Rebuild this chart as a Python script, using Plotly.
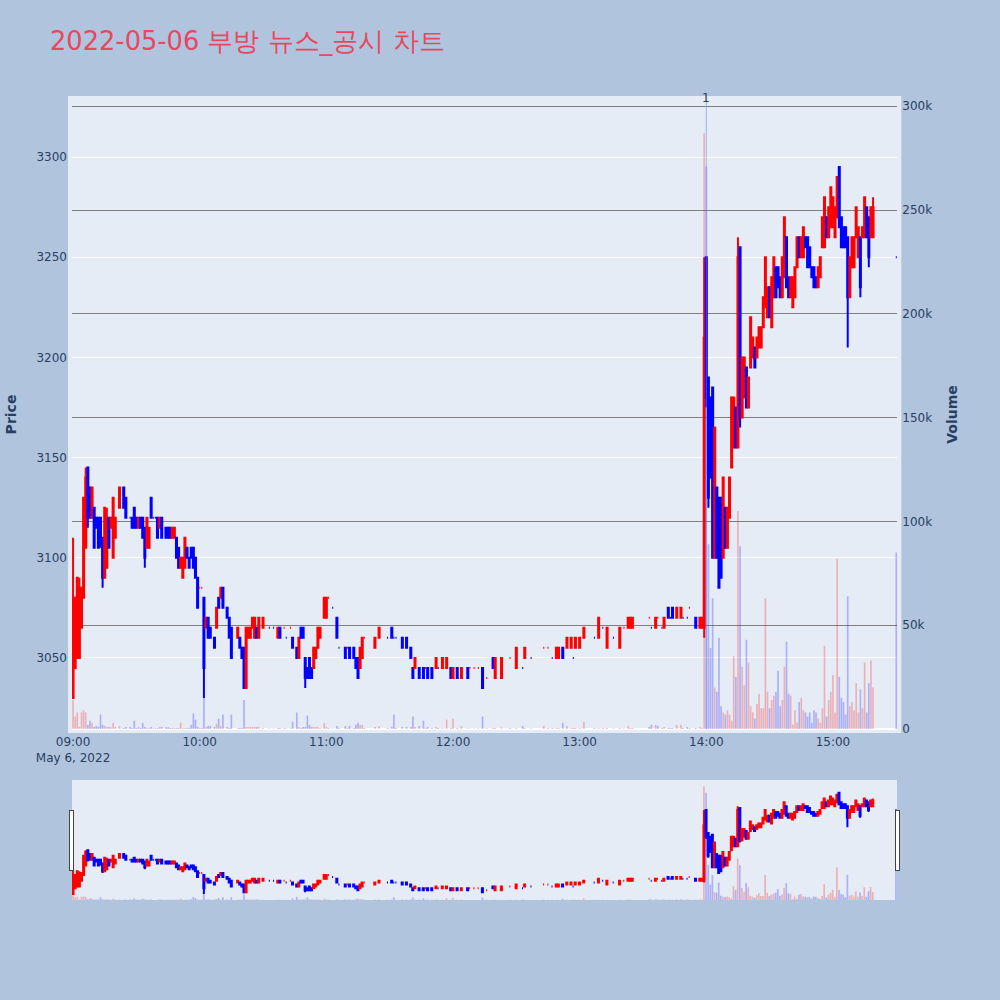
import pandas as pd
import plotly.graph_objects as go

TITLE = "2022-05-06 부방 뉴스_공시 차트"
NEWS_TIME = "2022-05-06 14:00"
NEWS_LABEL = "1"

# minutes after 09:00 that have a trade
minutes = [
    0, 1, 2, 3, 4, 5, 6, 7, 8, 9,
    10, 11, 12, 13, 14, 15, 16, 17, 18, 19,
    20, 22, 24, 25, 27, 28, 29, 30, 31, 32,
    33, 34, 35, 36, 37, 38, 39, 40, 41, 42,
    44, 45, 46, 47, 48, 49, 50, 51, 52, 53,
    54, 55, 56, 57, 58, 59, 60, 61, 62, 63,
    64, 65, 67, 68, 69, 70, 71, 73, 74, 75,
    78, 79, 80, 81, 82, 83, 84, 85, 86, 87,
    88, 90, 93, 95, 97, 98, 100, 101, 103, 104,
    106, 107, 108, 109, 110, 111, 112, 113, 114, 115,
    116, 117, 119, 120, 121, 123, 125, 126, 129, 130,
    131, 133, 134, 135, 136, 137, 138, 143, 145, 149,
    151, 152, 153, 156, 158, 160, 161, 162, 164, 166,
    167, 168, 170, 172, 173, 175, 177, 179, 180, 182,
    184, 187, 188, 190, 192, 194, 196, 199, 200, 203,
    207, 210, 213, 214, 217, 223, 225, 227, 229, 230,
    232, 234, 236, 237, 238, 240, 242, 247, 249, 251,
    253, 256, 259, 261, 263, 264, 265, 273, 274, 276,
    277, 279, 280, 282, 283, 284, 286, 288, 289, 291,
    292, 295, 297, 298,
    299, 300, 301, 302, 303, 304, 305, 306, 307, 308,
    309, 310, 311, 312, 313, 314, 315, 316, 317, 318,
    319, 320, 321, 322, 323, 324, 325, 326, 327, 328,
    329, 330, 331, 332, 333, 334, 335, 336, 337, 338,
    339, 340, 341, 342, 343, 344, 345, 346, 347, 348,
    349, 350, 351, 352, 353, 354, 355, 356, 357, 358,
    359, 360, 361, 362, 363, 364, 365, 366, 367, 368,
    369, 370, 371, 372, 373, 374, 375, 376, 377, 378,
    379, 390,
]

opens = [
    3030, 3045, 3050, 3050, 3065, 3080, 3105, 3145, 3135, 3120,
    3125, 3120, 3120, 3120, 3110, 3090, 3095, 3120, 3115, 3100,
    3110, 3125, 3135, 3130, 3120, 3120, 3125, 3120, 3115, 3120,
    3120, 3115, 3105, 3105, 3130, 3120, 3120, 3120, 3115, 3120,
    3115, 3115, 3115, 3110, 3110, 3110, 3105, 3095, 3090, 3095,
    3105, 3100, 3105, 3105, 3100, 3090, 3085, 3085, 3080, 3065,
    3070, 3065, 3060, 3065, 3080, 3080, 3085, 3075, 3070, 3065,
    3060, 3060, 3055, 3055, 3035, 3060, 3060, 3065, 3060, 3065,
    3060, 3065, 3065, 3065, 3060, 3065, 3065, 3060, 3065, 3060,
    3055, 3050, 3065, 3065, 3050, 3045, 3050, 3045, 3045, 3050,
    3055, 3060, 3070, 3070, 3080, 3075, 3070, 3055, 3055, 3055,
    3055, 3055, 3050, 3050, 3045, 3050, 3060, 3055, 3060, 3060,
    3065, 3060, 3060, 3060, 3060, 3055, 3045, 3045, 3045, 3045,
    3045, 3045, 3045, 3045, 3045, 3045, 3045, 3045, 3040, 3045,
    3040, 3045, 3045, 3045, 3045, 3045, 3040, 3050, 3040, 3040,
    3050, 3045, 3045, 3050, 3050, 3055, 3055, 3050, 3050, 3050,
    3055, 3055, 3055, 3050, 3055, 3055, 3060, 3060, 3060, 3065,
    3055, 3060, 3055, 3065, 3065, 3065, 3065, 3070, 3065, 3065,
    3070, 3065, 3065, 3075, 3070, 3075, 3070, 3070, 3070, 3070,
    3075, 3070, 3065, 3065,
    3065, 3250, 3190, 3180, 3185, 3100, 3135, 3130, 3130, 3100,
    3125, 3105, 3120, 3145, 3155, 3175, 3155, 3255, 3170, 3180,
    3195, 3175, 3195, 3200, 3205, 3200, 3205, 3205, 3215, 3225,
    3220, 3235, 3215, 3230, 3245, 3245, 3240, 3230, 3240, 3260,
    3240, 3230, 3225, 3230, 3245, 3260, 3250, 3250, 3260, 3260,
    3255, 3245, 3245, 3240, 3235, 3240, 3255, 3255, 3270, 3260,
    3265, 3265, 3260, 3270, 3295, 3270, 3265, 3265, 3260, 3230,
    3245, 3245, 3260, 3250, 3260, 3260, 3260, 3275, 3270, 3260,
    3260, 3250,
]

highs = [
    3110, 3080, 3090, 3090, 3085, 3130, 3145, 3145, 3135, 3135,
    3125, 3120, 3120, 3120, 3110, 3125, 3125, 3120, 3120, 3130,
    3120, 3135, 3135, 3130, 3120, 3120, 3125, 3120, 3120, 3120,
    3120, 3115, 3120, 3115, 3130, 3120, 3120, 3120, 3120, 3120,
    3115, 3115, 3115, 3115, 3115, 3110, 3105, 3100, 3100, 3110,
    3105, 3100, 3105, 3105, 3100, 3090, 3085, 3085, 3080, 3070,
    3070, 3065, 3060, 3075, 3080, 3085, 3085, 3075, 3070, 3065,
    3065, 3060, 3055, 3055, 3065, 3065, 3065, 3070, 3070, 3065,
    3070, 3070, 3065, 3065, 3065, 3065, 3065, 3060, 3065, 3060,
    3055, 3060, 3065, 3065, 3050, 3045, 3050, 3045, 3055, 3055,
    3065, 3065, 3080, 3080, 3080, 3075, 3070, 3055, 3055, 3055,
    3055, 3055, 3050, 3050, 3055, 3060, 3060, 3060, 3065, 3060,
    3065, 3060, 3060, 3060, 3060, 3055, 3045, 3050, 3045, 3045,
    3045, 3045, 3045, 3050, 3045, 3050, 3050, 3045, 3045, 3045,
    3045, 3045, 3045, 3045, 3045, 3045, 3040, 3050, 3050, 3050,
    3050, 3055, 3045, 3055, 3050, 3055, 3055, 3050, 3055, 3055,
    3055, 3060, 3060, 3050, 3060, 3060, 3065, 3060, 3070, 3065,
    3065, 3060, 3065, 3065, 3070, 3070, 3070, 3070, 3065, 3070,
    3070, 3065, 3070, 3075, 3070, 3075, 3075, 3075, 3070, 3070,
    3075, 3070, 3070, 3070,
    3250, 3250, 3190, 3180, 3185, 3165, 3135, 3130, 3130, 3140,
    3125, 3125, 3140, 3180, 3180, 3175, 3260, 3255, 3200, 3200,
    3195, 3190, 3220, 3210, 3205, 3210, 3215, 3215, 3230, 3250,
    3235, 3235, 3240, 3250, 3245, 3245, 3240, 3250, 3270, 3260,
    3240, 3240, 3240, 3245, 3260, 3260, 3260, 3265, 3260, 3260,
    3255, 3245, 3245, 3240, 3245, 3250, 3270, 3280, 3270, 3275,
    3285, 3280, 3275, 3290, 3295, 3270, 3265, 3265, 3260, 3250,
    3260, 3260, 3275, 3265, 3260, 3265, 3280, 3275, 3270, 3275,
    3280, 3250,
]

lows = [
    3030, 3045, 3050, 3050, 3065, 3080, 3105, 3115, 3120, 3120,
    3105, 3115, 3105, 3105, 3085, 3090, 3095, 3105, 3115, 3100,
    3110, 3125, 3125, 3120, 3120, 3115, 3115, 3115, 3115, 3115,
    3110, 3095, 3105, 3105, 3120, 3120, 3120, 3110, 3115, 3110,
    3110, 3110, 3110, 3110, 3110, 3100, 3095, 3095, 3090, 3095,
    3100, 3095, 3100, 3095, 3090, 3075, 3085, 3085, 3030, 3065,
    3060, 3060, 3055, 3065, 3075, 3080, 3075, 3070, 3060, 3050,
    3060, 3055, 3050, 3035, 3035, 3060, 3060, 3065, 3060, 3060,
    3060, 3065, 3065, 3065, 3060, 3060, 3065, 3060, 3065, 3055,
    3050, 3050, 3060, 3060, 3035, 3040, 3040, 3040, 3045, 3050,
    3055, 3060, 3070, 3070, 3080, 3075, 3060, 3055, 3050, 3055,
    3050, 3050, 3045, 3040, 3045, 3050, 3060, 3055, 3060, 3060,
    3060, 3060, 3060, 3055, 3055, 3050, 3040, 3045, 3040, 3040,
    3045, 3040, 3040, 3045, 3045, 3045, 3045, 3040, 3040, 3040,
    3040, 3040, 3045, 3045, 3045, 3035, 3040, 3045, 3040, 3040,
    3050, 3045, 3045, 3050, 3050, 3055, 3055, 3050, 3050, 3050,
    3050, 3055, 3055, 3050, 3055, 3055, 3060, 3060, 3060, 3065,
    3055, 3060, 3055, 3065, 3065, 3065, 3065, 3070, 3065, 3065,
    3070, 3065, 3065, 3070, 3070, 3070, 3070, 3070, 3070, 3070,
    3075, 3065, 3065, 3065,
    3060, 3175, 3125, 3140, 3100, 3100, 3100, 3085, 3090, 3100,
    3105, 3105, 3120, 3145, 3155, 3155, 3155, 3165, 3170, 3180,
    3175, 3175, 3195, 3200, 3195, 3200, 3205, 3205, 3215, 3225,
    3220, 3220, 3215, 3230, 3230, 3235, 3230, 3230, 3240, 3235,
    3230, 3230, 3225, 3230, 3245, 3250, 3250, 3250, 3255, 3245,
    3245, 3240, 3235, 3235, 3235, 3240, 3255, 3255, 3260, 3260,
    3265, 3265, 3260, 3270, 3265, 3255, 3255, 3255, 3205, 3230,
    3245, 3245, 3260, 3250, 3230, 3260, 3260, 3260, 3245, 3260,
    3260, 3250,
]

closes = [
    3080, 3080, 3090, 3085, 3085, 3130, 3140, 3120, 3120, 3135,
    3105, 3115, 3105, 3110, 3090, 3125, 3120, 3105, 3120, 3130,
    3120, 3135, 3125, 3120, 3120, 3115, 3115, 3115, 3120, 3115,
    3110, 3100, 3120, 3115, 3120, 3120, 3120, 3110, 3120, 3110,
    3110, 3110, 3110, 3115, 3115, 3100, 3095, 3100, 3100, 3110,
    3100, 3095, 3100, 3095, 3090, 3075, 3085, 3085, 3045, 3070,
    3060, 3060, 3055, 3075, 3075, 3085, 3075, 3070, 3060, 3050,
    3065, 3055, 3050, 3035, 3065, 3065, 3065, 3070, 3070, 3060,
    3070, 3070, 3065, 3065, 3065, 3060, 3065, 3060, 3065, 3055,
    3050, 3060, 3060, 3060, 3040, 3040, 3040, 3040, 3055, 3055,
    3065, 3065, 3080, 3080, 3080, 3075, 3060, 3055, 3050, 3055,
    3050, 3050, 3045, 3040, 3055, 3060, 3060, 3060, 3065, 3060,
    3060, 3060, 3060, 3055, 3055, 3050, 3040, 3050, 3040, 3040,
    3045, 3040, 3040, 3050, 3045, 3050, 3050, 3040, 3045, 3040,
    3045, 3040, 3045, 3045, 3045, 3035, 3040, 3045, 3050, 3050,
    3050, 3055, 3045, 3055, 3050, 3055, 3055, 3050, 3055, 3055,
    3050, 3060, 3060, 3050, 3060, 3060, 3065, 3060, 3070, 3065,
    3065, 3060, 3065, 3065, 3070, 3070, 3070, 3070, 3065, 3070,
    3070, 3065, 3070, 3070, 3070, 3070, 3075, 3075, 3070, 3070,
    3075, 3065, 3070, 3070,
    3210, 3180, 3130, 3140, 3100, 3165, 3100, 3085, 3090, 3140,
    3105, 3125, 3140, 3180, 3180, 3155, 3250, 3170, 3200, 3200,
    3175, 3190, 3220, 3210, 3195, 3210, 3215, 3215, 3230, 3250,
    3235, 3220, 3240, 3250, 3230, 3235, 3230, 3250, 3270, 3235,
    3230, 3240, 3240, 3245, 3260, 3250, 3260, 3265, 3255, 3245,
    3245, 3240, 3235, 3235, 3245, 3250, 3270, 3280, 3260, 3275,
    3285, 3280, 3275, 3290, 3265, 3255, 3255, 3255, 3230, 3250,
    3260, 3260, 3275, 3265, 3235, 3265, 3280, 3260, 3250, 3275,
    3275, 3250,
]

# traded volume, thousands of shares
volume_k = [
    14, 6, 8, 1, 8, 9, 8, 2, 4, 3,
    1, 1.5, 1, 7, 2, 1.5, 1, 1, 0.8, 3,
    1, 1.5, 0.5, 1, 1, 0.5, 4, 0.5, 1, 0.5,
    3, 1, 0.5, 0.5, 1, 0.3, 0.3, 0.5, 1, 1,
    0.8, 0.8, 0.5, 0.5, 0.5, 0.5, 0.5, 3, 0.5, 0.5,
    0.5, 0.5, 2, 7.5, 4.5, 1, 0.5, 0.5, 15, 1,
    1.5, 1.5, 1, 2.6, 5, 1.5, 7, 1, 0.5, 7,
    0.5, 0.5, 0.5, 14, 1, 1, 1, 1, 1, 1,
    1, 0.5, 0.3, 0.3, 0.5, 0.5, 0.5, 0.3, 0.3, 3.5,
    8, 1, 0.5, 1, 1, 6.5, 2, 1, 1, 1,
    1, 0.5, 3, 1, 0.5, 0.3, 1.5, 0.5, 1.5, 0.5,
    1.5, 0.5, 2, 3, 2, 2, 0.5, 1, 1.5, 0.5,
    1, 7, 0.5, 1, 1, 1, 6, 1, 1.5, 4,
    0.5, 1, 0.5, 1, 0.5, 0.5, 4.5, 0.5, 5, 0.5,
    1.5, 0.3, 0.3, 0.3, 0.3, 6, 0.5, 0.5, 0.5, 0.8,
    0.5, 0.5, 1.5, 0.5, 0.3, 1.5, 0.5, 0.5, 0.5, 0.5,
    3, 1.5, 0.5, 0.5, 0.5, 0.5, 3.5, 0.5, 0.5, 0.5,
    0.5, 0.3, 0.5, 0.3, 1.5, 0.5, 0.5, 1, 2, 2,
    1.5, 0.5, 1, 0.5, 0.5, 0.5, 2, 2, 0.5, 1,
    0.5, 0.5, 1, 0.5,
    287, 271, 89, 39, 63, 20, 18, 44, 11, 8,
    7, 9, 7, 4, 35, 25, 105, 88, 30, 21,
    43, 32, 11, 8, 5, 12, 17, 10, 10, 63,
    18, 10, 14, 16, 18, 28, 11, 14, 30, 42,
    17, 16, 2, 9, 3, 13, 15, 9, 8, 6,
    8, 3, 9, 8, 5, 3, 10, 40, 6, 14,
    18, 26, 8, 82, 25, 15, 13, 7, 64, 11,
    13, 9, 22, 8, 19, 10, 32, 8, 22, 33,
    20, 85,
]

n = len(minutes)
assert all(len(a) == n for a in (opens, highs, lows, closes, volume_k))

base = pd.Timestamp("2022-05-06 09:00")
times = [base + pd.Timedelta(minutes=m) for m in minutes]
volumes = [v * 1000 for v in volume_k]

UP = "rgba(255,0,0,0.25)"
DOWN = "rgba(0,0,255,0.25)"
vol_colors = []
prev_c = None
for o, c in zip(opens, closes):
    if c > o:
        up = True
    elif c < o:
        up = False
    else:
        up = prev_c is not None and c > prev_c
    vol_colors.append(UP if up else DOWN)
    prev_c = c

FONT = "DejaVu Sans"

fig = go.Figure()
fig.add_trace(go.Candlestick(
    x=times, open=opens, high=highs, low=lows, close=closes,
    increasing=dict(line=dict(color="red"), fillcolor="red"),
    decreasing=dict(line=dict(color="blue"), fillcolor="blue"),
    name="Price", showlegend=False,
))
fig.add_trace(go.Bar(
    x=times, y=volumes, yaxis="y2", name="Volume", showlegend=False,
    marker=dict(color=vol_colors, line=dict(width=0)),
))

fig.add_shape(type="line", xref="x", yref="paper", x0=NEWS_TIME, x1=NEWS_TIME,
              y0=0, y1=1, line=dict(color="rgba(110,140,235,0.6)", width=1))
fig.add_annotation(x=NEWS_TIME, y=1, xref="x", yref="paper", text=NEWS_LABEL,
                   showarrow=False, yanchor="middle", yshift=2,
                   font=dict(size=12, color="#2a3f5f"))

AXIS_TITLE_FONT = dict(family=FONT, size=14, color="#2a3f5f", weight="bold")

fig.update_layout(
    width=1000, height=1000,
    font=dict(family=FONT),
    paper_bgcolor="lightsteelblue",
    plot_bgcolor="#E5ECF6",
    title=dict(text=TITLE, x=0.05, font=dict(family=FONT, size=25.7, color="#e8485f")),
    margin=dict(l=72, r=50, t=100, b=100, pad=4),
    showlegend=False,
    xaxis=dict(domain=[0, 0.94], range=["2022-05-06 08:59:30", "2022-05-06 15:30:30"],
               showgrid=False, rangeslider=dict(visible=True)),
    yaxis=dict(title=dict(text="Price", font=AXIS_TITLE_FONT, standoff=20),
               automargin=False, range=[3014.5, 3328.5], gridcolor="white"),
    yaxis2=dict(title=dict(text="Volume", font=AXIS_TITLE_FONT, standoff=19),
                automargin=False, overlaying="y", side="right",
                range=[0, 303000], showgrid=True, gridcolor="gray"),
)

fig.write_html("out.html", config={"displayModeBar": False},
               post_script="document.body.style.margin='0';")
